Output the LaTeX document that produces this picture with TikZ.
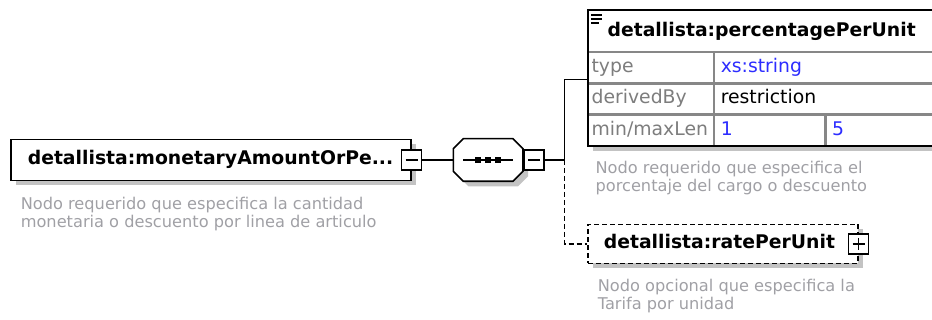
\documentclass[tikz,border=0pt]{standalone}
\usepackage{fontspec}
\setmainfont{DejaVu Sans}
\usetikzlibrary{positioning,fit,backgrounds,shadows}

\definecolor{shadegray}{RGB}{195,195,195}
\definecolor{rulegray}{RGB}{135,135,135}
\definecolor{labelgray}{RGB}{125,125,125}
\definecolor{notegray}{RGB}{160,160,165}
\definecolor{typeblue}{RGB}{45,45,255}

\begin{document}
\begin{tikzpicture}[
    x=1pt, y=-1pt, line width=1.6pt,
    shadowed/.style={drop shadow={shadow xshift=5pt, shadow yshift=-5pt, fill=shadegray, opacity=1}},
    elem/.style={rectangle, draw, fill=white, shadowed, align=left, inner ysep=0pt,
        font=\fontsize{18.8}{22}\selectfont\bfseries, text height=14pt, text depth=4pt,
        execute at begin node={\hyphenpenalty=10000}},
    optedge/.style={dash pattern=on 5pt off 3pt},
    btn/.style={rectangle, draw, fill=white, minimum size=20pt, inner sep=0pt},
    collapse/.style={btn, path picture={
        \draw ([xshift=4pt]path picture bounding box.west) -- ([xshift=-4pt]path picture bounding box.east);}},
    expand/.style={btn, path picture={
        \draw ([xshift=4pt]path picture bounding box.west) -- ([xshift=-4pt]path picture bounding box.east);
        \draw ([yshift=-4pt]path picture bounding box.north) -- ([yshift=4pt]path picture bounding box.south);}},
    cell/.style={rectangle, draw=rulegray, line width=1.2pt, fill=white, minimum height=30pt, inner ysep=0pt, align=left,
        font=\fontsize{18.8}{22}\selectfont, text height=14pt, text depth=4pt},
    attrcell/.style={cell, text=labelgray, text width=119pt, inner xsep=3pt},
    valcell/.style={cell, text=typeblue, inner xsep=6pt},
    annot/.style={align=left, inner sep=0pt, text=notegray, font=\fontsize{16.2}{18}\selectfont},
]
\useasboundingbox (0,0) rectangle (932,320);
\clip (0,0) rectangle (932,320);

% Root element
\node[elem, text width=366pt, inner xsep=17pt, minimum height=41pt, anchor=west] (root) at (10,160) {detallista:monetaryAmountOrPe...};
\node[collapse] (rootbtn) at (root.east) {};
\node[annot, below right=15pt and 10pt of root.south west] (rootdoc) {Nodo requerido que especifica la cantidad\\monetaria o descuento por linea de articulo};

% Sequence compositor
\node[minimum width=68pt, minimum height=41pt, inner sep=0pt, right=31pt of rootbtn] (seq) {};
\draw[fill=white, shadowed] ([xshift=10pt]seq.north west) -- ([xshift=-10pt]seq.north east)
    -- ([yshift=-10pt]seq.north east) -- ([yshift=10pt]seq.south east)
    -- ([xshift=-10pt]seq.south east) -- ([xshift=10pt]seq.south west)
    -- ([yshift=10pt]seq.south west) -- ([yshift=-10pt]seq.north west) -- cycle;
\draw (seq.center) ++(-25,0) -- ++(50,0);
\foreach \dx in {-10,0,10}
  \fill ([xshift=\dx pt]seq.center) +(-3,-3) rectangle +(3,3);
\node[collapse, right=0pt of seq] (seqbtn) {};

% Child: percentagePerUnit with its type table
\node[cell, font=\fontsize{18.8}{22}\selectfont\bfseries, text=black, minimum height=41pt, text width=314pt, inner xsep=19pt, anchor=north west] (pcthead) at (588,10) {detallista:percentagePerUnit};
\node[attrcell, below right=0pt and 0pt of pcthead.south west] (typelab) {type};
\node[valcell, text width=215pt, right=0pt of typelab] (typeval) {xs:string};
\node[attrcell, below=0pt of typelab] (derlab) {derivedBy};
\node[valcell, text=black, text width=215pt, right=0pt of derlab] (derval) {restriction};
\node[attrcell, below=0pt of derlab] (lenlab) {min/maxLen};
\node[valcell, text width=98pt, right=0pt of lenlab] (lenmin) {1};
\node[valcell, text width=105pt, right=0pt of lenmin] (lenmax) {5};
\begin{scope}[on background layer]
  \node[fit=(pcthead)(lenmax), inner sep=0pt, fill=white, shadowed] (pctbox) {};
\end{scope}
\draw (pctbox.north west) rectangle (pctbox.south east);
\foreach \yy/\len in {5/11,9/11,13/8}
  \draw[line width=1.2pt] ([shift={(3,\yy)}]pcthead.north west) -- ++(\len,0);
\node[annot, below right=14pt and 7pt of pctbox.south west] (pctdoc) {Nodo requerido que especifica el\\porcentaje del cargo o descuento};

% Child: ratePerUnit (optional)
\node[elem, optedge, text width=238pt, inner xsep=16pt, minimum height=39pt, anchor=west] (rate) at (587,244) {detallista:ratePerUnit};
\node[expand] (ratebtn) at (rate.east) {};
\node[annot, below right=14pt and 10pt of rate.south west] (ratedoc) {Nodo opcional que especifica la\\Tarifa por unidad};

% Connectors
\coordinate[right=20pt of seqbtn] (fork);
\coordinate (pctin) at ([yshift=4pt]typelab.south west);
\draw (rootbtn) -- (seq);
\draw (seqbtn) -- (fork) |- (pctin);
\draw[optedge] (fork) |- (rate.west);

\end{tikzpicture}
\end{document}
